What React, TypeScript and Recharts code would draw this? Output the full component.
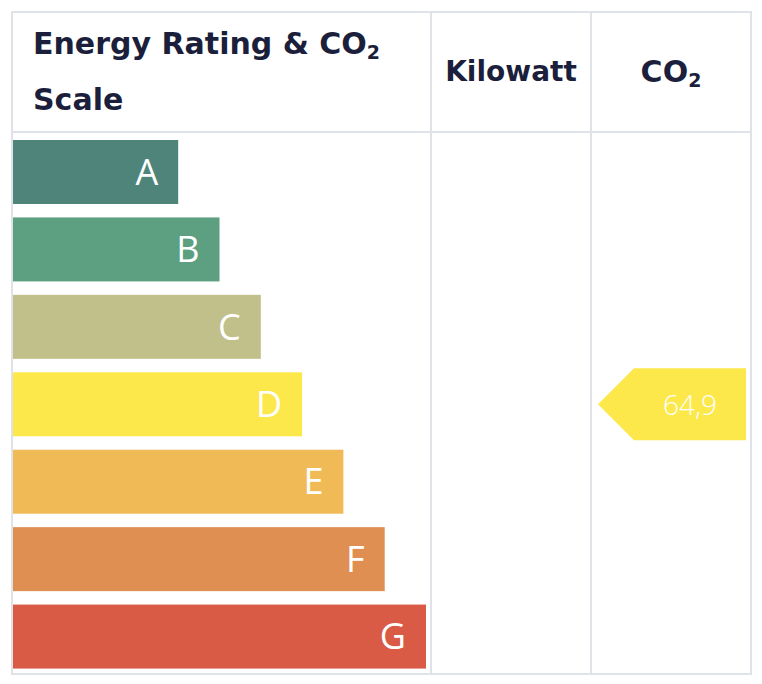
// Energy rating scale: horizontal bars A–G plus the CO2 arrow pointing at the current rating.
import { BarChart, Bar, XAxis, YAxis, LabelList } from "recharts";

const grades = ["A", "B", "C", "D", "E", "F", "G"];
const barLengths = [4, 5, 6, 7, 8, 9, 10];
const gradeColors = ["#4f847a", "#5c9f81", "#c1c08a", "#fce84b", "#f0bb57", "#e08f53", "#d95a45"];
// CO2 value sits on the D row only
const co2Values = [null, null, null, 64.9, null, null, null];

const scaleData = grades.map((g, i) => ({ grade: g, len: barLengths[i], color: gradeColors[i] }));
const co2Data = grades.map((g, i) => ({ grade: g, co2: co2Values[i], color: gradeColors[i] }));

const BORDER = "#dfe2e6";
const INK = "#1b1f3b";
const HEAD_FONT = "'DejaVu Sans', sans-serif";
const LABEL_FONT = "'Open Sans', sans-serif";
const TIP = 36;

function GradeBar(props: any) {
  const { x, y, width, height, payload } = props;
  if (!width || width <= 0) return null;
  return <rect x={x} y={y} width={width} height={height} fill={payload.color} />;
}

function ArrowShape(props: any) {
  const { x, y, width, height, payload } = props;
  if (payload.co2 == null || !width || width <= 0) return null;
  const pts = [
    [x, y + height / 2],
    [x + TIP, y],
    [x + width, y],
    [x + width, y + height],
    [x + TIP, y + height],
  ].map((p) => p.join(",")).join(" ");
  return <polygon points={pts} fill={payload.color} />;
}

function ArrowLabel(props: any) {
  const { x, y, width, height, value } = props;
  if (value == null) return null;
  return (
    <text
      x={x + TIP + (width - TIP) / 2}
      y={y + height / 2}
      fill="#ffffff"
      fontSize={28}
      fontWeight={300}
      fontFamily={LABEL_FONT}
      textAnchor="middle"
      dominantBaseline="central"
    >
      {String(value).replace(".", ",")}
    </text>
  );
}

const line = (s: React.CSSProperties): React.CSSProperties => ({ position: "absolute", background: BORDER, ...s });
const sub: React.CSSProperties = { fontSize: 19, verticalAlign: -5, lineHeight: 0 };

export default function App() {
  return (
    <div style={{ position: "absolute", left: 0, top: 0, width: 762, height: 684, background: "#fff", fontFamily: HEAD_FONT, color: INK }}>
      {/* table grid */}
      <div style={{ position: "absolute", left: 11, top: 11, width: 741, height: 664, border: `2px solid ${BORDER}`, boxSizing: "border-box" }} />
      <div style={line({ left: 11, top: 131, width: 741, height: 2 })} />
      <div style={line({ left: 430, top: 11, width: 2, height: 664 })} />
      <div style={line({ left: 590, top: 11, width: 2, height: 664 })} />

      {/* headers */}
      <div style={{ position: "absolute", left: 33, top: 16, fontSize: 30, fontWeight: 700, lineHeight: "56px", whiteSpace: "nowrap" }}>
        Energy Rating &amp; CO<sub style={sub}>2</sub>
        <br />
        Scale
      </div>
      <div style={{ position: "absolute", left: 432, top: 44, width: 158, textAlign: "center", fontSize: 28, fontWeight: 700, lineHeight: "56px" }}>
        Kilowatt
      </div>
      <div style={{ position: "absolute", left: 592, top: 44, width: 158, textAlign: "center", fontSize: 30, fontWeight: 700, lineHeight: "56px" }}>
        CO<sub style={sub}>2</sub>
      </div>

      {/* rating bars */}
      <div style={{ position: "absolute", left: 13, top: 133 }}>
        <BarChart width={413} height={542} data={scaleData} layout="vertical" margin={{ top: 0, right: 0, bottom: 0, left: 0 }}>
          <XAxis type="number" domain={[0, 10]} hide />
          <YAxis type="category" dataKey="grade" hide />
          <Bar dataKey="len" barSize={64} shape={<GradeBar />} isAnimationActive={false}>
            <LabelList dataKey="grade" position="insideRight" offset={20} fill="#ffffff" fontSize={36} fontWeight={400} fontFamily={LABEL_FONT} />
          </Bar>
        </BarChart>
      </div>

      {/* CO2 arrow */}
      <div style={{ position: "absolute", left: 598, top: 133 }}>
        <BarChart width={148} height={542} data={co2Data} layout="vertical" margin={{ top: 0, right: 0, bottom: 0, left: 0 }}>
          <XAxis type="number" domain={[0, "dataMax"]} hide />
          <YAxis type="category" dataKey="grade" hide />
          <Bar dataKey="co2" barSize={72} shape={<ArrowShape />} isAnimationActive={false}>
            <LabelList dataKey="co2" content={<ArrowLabel />} />
          </Bar>
        </BarChart>
      </div>
    </div>
  );
}
